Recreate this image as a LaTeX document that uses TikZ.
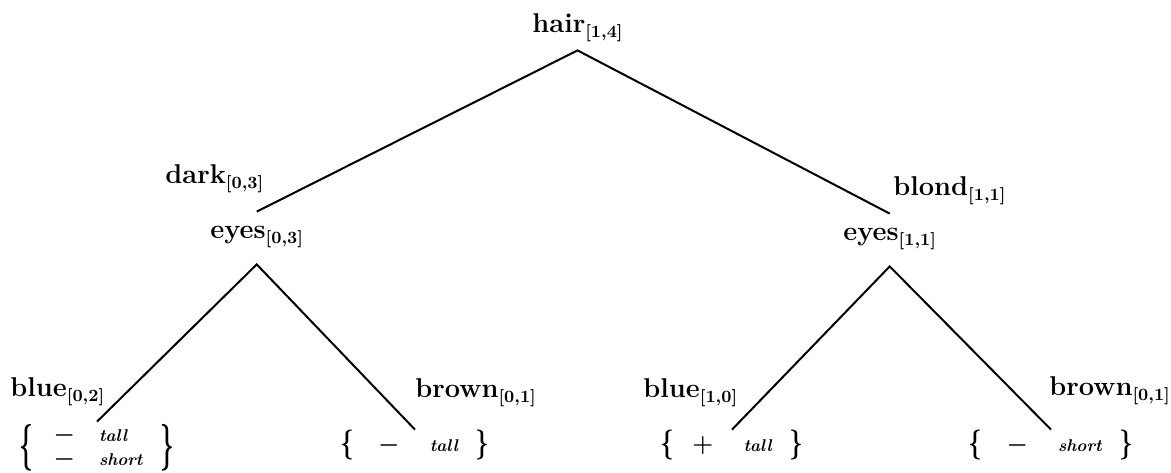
\documentclass[tikz,border=0pt]{standalone}
\newcommand\subtag[2]{#1\raisebox{-2.6pt}{\fontsize{8.6}{10}\selectfont[#2]}}
\newcommand\leafword[1]{\mbox{\fontsize{8.5}{10}\selectfont\bfseries\itshape #1}}
% a bold brace stretched vertically, centred on the math axis
\newcommand\tallbrace[2]{\vcenter{\hbox{\scalebox{1}[#1]{$#2$}}}}
\begin{document}
\begin{tikzpicture}[x=0.5pt,y=-0.5pt,
  lbl/.style={font=\fontsize{13.6}{16}\selectfont\bfseries, inner sep=0pt, anchor=base west},
  test/.style={lbl, text height=13pt, text depth=13pt},
  leafset/.style={inner sep=0pt, font=\fontsize{12}{14}\selectfont\boldmath},
  branch/.style={line width=1pt}]
\useasboundingbox (0,0) rectangle (1171,472);

% attribute tests
\node[lbl, text depth=9pt] (hair) at (532,32) {\subtag{hair}{1,4}};
\node[test] (eyesL) at (210,238) {\subtag{eyes}{0,3}};
\node[test] (eyesR) at (843,240) {\subtag{eyes}{1,1}};

% leaf sets
\node[leafset] (setA) at (97,448)
  {$\tallbrace{1.95}{\{}\hspace{10pt}\begin{array}{@{}l@{\hspace{12pt}}l@{}} - & \leafword{tall}\\[-2pt] - & \leafword{short}\end{array}\hspace{9pt}\tallbrace{1.95}{\}}$};
\node[leafset] (setB) at (415,445)
  {$\tallbrace{1.25}{\{}\hspace{9pt}-\hspace{12pt}\leafword{tall}\hspace{9pt}\tallbrace{1.25}{\}}$};
\node[leafset] (setC) at (732,445)
  {$\tallbrace{1.25}{\{}\hspace{6pt}+\hspace{12pt}\leafword{tall}\hspace{9pt}\tallbrace{1.25}{\}}$};
\node[leafset] (setD) at (1051,445)
  {$\tallbrace{1.25}{\{}\hspace{9pt}-\hspace{12pt}\leafword{short}\hspace{9pt}\tallbrace{1.25}{\}}$};

% branch values
\node[lbl] (dark)   at (165,183)  {\subtag{dark}{0,3}};
\node[lbl] (blond)  at (893,195)  {\subtag{blond}{1,1}};
\node[lbl] (blueA)  at (10,396)   {\subtag{blue}{0,2}};
\node[lbl] (brownA) at (415,397)  {\subtag{brown}{0,1}};
\node[lbl] (blueB)  at (643,397)  {\subtag{blue}{1,0}};
\node[lbl] (brownB) at (1049,395) {\subtag{brown}{0,1}};

% branches
\draw[branch] (eyesL.north) -- (hair.south) -- (eyesR.north);
\draw[branch] (setA.north) -- (eyesL.south) -- (setB.north);
\draw[branch] (setC.north) -- (eyesR.south) -- (setD.north);
\end{tikzpicture}
\end{document}
